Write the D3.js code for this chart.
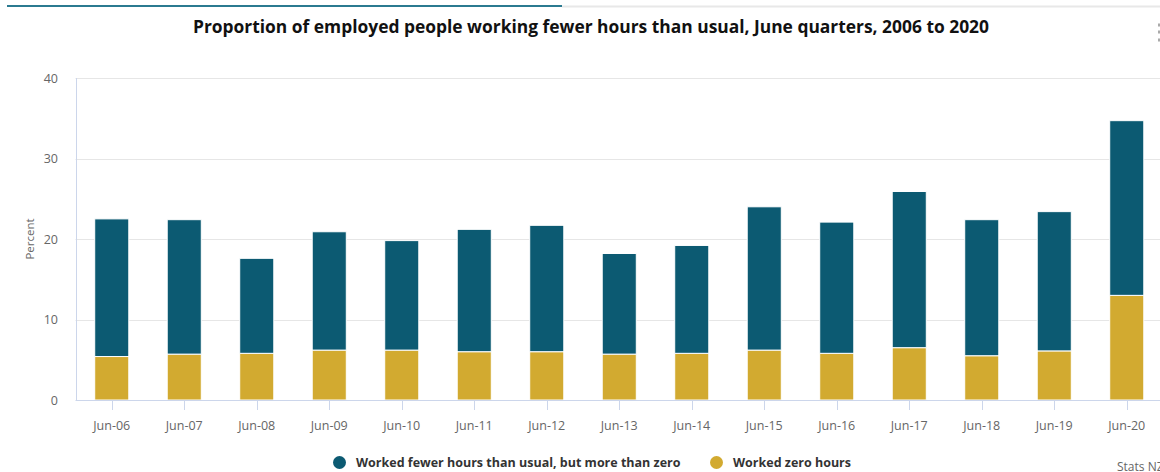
<!DOCTYPE html>
<html>
<head>
<meta charset="utf-8">
<script src="https://cdn.jsdelivr.net/npm/d3@7"></script>
<style>
  html, body { margin: 0; padding: 0; background: #fff; overflow: hidden; }
  svg { display: block; font-family: "Open Sans", "Noto Sans", sans-serif; }
</style>
</head>
<body>
<svg id="chart" width="1160" height="472"></svg>
<script>
// June quarter labels
const categories = ["Jun-06","Jun-07","Jun-08","Jun-09","Jun-10","Jun-11","Jun-12","Jun-13","Jun-14","Jun-15","Jun-16","Jun-17","Jun-18","Jun-19","Jun-20"];
// Worked zero hours (%)
const zeroHours = [5.4, 5.7, 5.8, 6.2, 6.2, 6.0, 6.0, 5.7, 5.8, 6.2, 5.8, 6.5, 5.5, 6.1, 13.0];
// Worked fewer hours than usual, but more than zero (%)
const fewerHours = [17.1, 16.7, 11.8, 14.7, 13.6, 15.2, 15.7, 12.5, 13.4, 17.8, 16.3, 19.4, 16.9, 17.3, 21.7];
const yTicks = [0, 10, 20, 30, 40];

const seriesNames = ["Worked fewer hours than usual, but more than zero", "Worked zero hours"];
const colors = { fewer: "#0c5a72", zero: "#d2aa30" };

const svg = d3.select("#chart");

// Header rule
svg.append("line").attr("x1", 562).attr("x2", 1160).attr("y1", 6.5).attr("y2", 6.5)
  .attr("stroke", "#e8e8e8").attr("stroke-width", 2);
svg.append("line").attr("x1", 7).attr("x2", 562).attr("y1", 6).attr("y2", 6)
  .attr("stroke", "#2b7a90").attr("stroke-width", 2);
// Menu dots
[25, 32, 40].forEach(y => svg.append("rect").attr("x", 1158).attr("y", y - 1.5)
  .attr("width", 3).attr("height", 3).attr("fill", "#aaa"));

// Title
svg.append("text").attr("x", 591).attr("y", 33).attr("text-anchor", "middle")
  .attr("font-size", 17.4).attr("font-weight", 700).attr("fill", "#111")
  .text("Proportion of employed people working fewer hours than usual, June quarters, 2006 to 2020");

const plotLeft = 75.5, plotRight = 1163, plotTop = 78, plotBottom = 400;

const x = d3.scaleBand().domain(categories).range([plotLeft, plotRight])
  .paddingInner(0.53).paddingOuter(0.265);
const y = d3.scaleLinear().domain([0, 40]).range([plotBottom, plotTop]);

// Gridlines
svg.append("g").selectAll("line").data(yTicks.filter(t => t > 0)).join("line")
  .attr("x1", plotLeft).attr("x2", plotRight)
  .attr("y1", d => Math.round(y(d)) + 0.5).attr("y2", d => Math.round(y(d)) + 0.5)
  .attr("stroke", "#e6e6e6").attr("stroke-width", 1);

// Y axis line
svg.append("line").attr("x1", 76.5).attr("x2", 76.5).attr("y1", plotTop).attr("y2", plotBottom)
  .attr("stroke", "#ccd6eb");

// Y tick labels
svg.append("g").selectAll("text").data(yTicks).join("text")
  .attr("x", 58).attr("y", d => y(d) + 4.5).attr("text-anchor", "end")
  .attr("font-size", 12.5).attr("fill", "#666").text(d => d);

// Y axis title
svg.append("text").attr("transform", `translate(34,${(plotTop + plotBottom) / 2}) rotate(-90)`)
  .attr("text-anchor", "middle").attr("font-size", 11.5).attr("fill", "#666").text("Percent");

// Stacked bars
const rows = categories.map((c, i) => ({ cat: c, zero: zeroHours[i], fewer: fewerHours[i] }));
const stack = d3.stack().keys(["zero", "fewer"])(rows);

svg.append("g").selectAll("g").data(stack).join("g")
  .attr("fill", d => colors[d.key])
  .selectAll("rect").data(d => d).join("rect")
  .attr("x", d => x(d.data.cat))
  .attr("width", x.bandwidth())
  .attr("y", d => y(d[1]))
  .attr("height", d => y(d[0]) - y(d[1]))
  .attr("stroke", "#ffffff").attr("stroke-width", 1);

// X axis line and ticks
svg.append("line").attr("x1", plotLeft).attr("x2", plotRight).attr("y1", plotBottom + 0.5).attr("y2", plotBottom + 0.5)
  .attr("stroke", "#ccd6eb");
svg.append("g").selectAll("line").data(categories).join("line")
  .attr("x1", d => Math.round(x(d) + x.bandwidth() / 2) + 0.5)
  .attr("x2", d => Math.round(x(d) + x.bandwidth() / 2) + 0.5)
  .attr("y1", plotBottom).attr("y2", plotBottom + 10)
  .attr("stroke", "#ccd6eb");
svg.append("g").selectAll("text").data(categories).join("text")
  .attr("x", d => x(d) + x.bandwidth() / 2).attr("y", 429.5)
  .attr("text-anchor", "middle").attr("font-size", 12.5).attr("fill", "#666").text(d => d);

// Legend
const legend = [
  { name: seriesNames[0], color: colors.fewer, cx: 339.5 },
  { name: seriesNames[1], color: colors.zero, cx: 716.5 }
];
const lg = svg.append("g").selectAll("g").data(legend).join("g");
lg.append("circle").attr("cx", d => d.cx).attr("cy", 462.5).attr("r", 6.5).attr("fill", d => d.color);
lg.append("text").attr("x", d => d.cx + 16.5).attr("y", 467).attr("font-size", 12.5)
  .attr("font-weight", 700).attr("fill", "#333").text(d => d.name);

// Credit
svg.append("text").attr("x", 1117).attr("y", 471).attr("font-size", 12).attr("fill", "#666").text("Stats NZ");
</script>
</body>
</html>
